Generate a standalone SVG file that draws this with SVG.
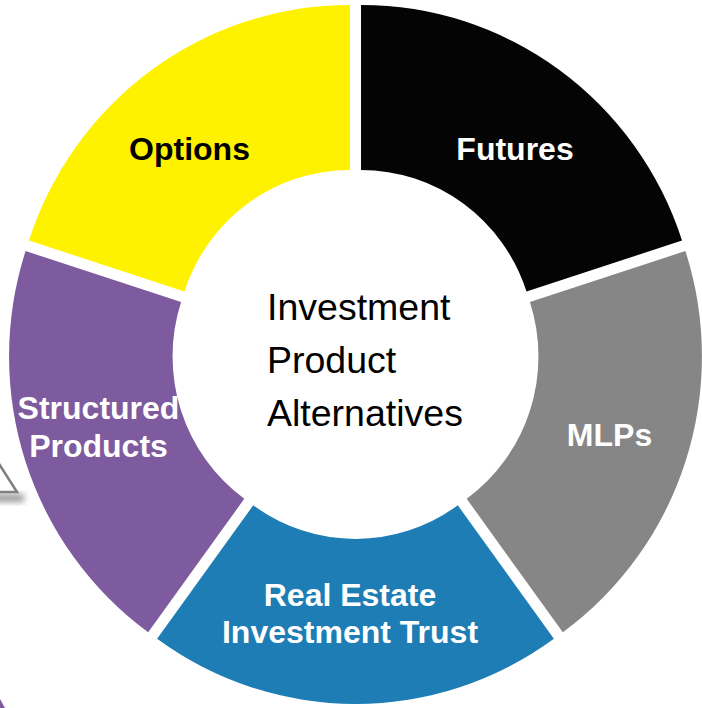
<svg xmlns="http://www.w3.org/2000/svg" width="702" height="708" viewBox="0 0 702 708">
<defs>
<style>
.lbl{font-family:"Liberation Sans",Arial,sans-serif;font-weight:bold;font-size:32px;text-anchor:middle;fill:#ffffff}
.ctr{font-family:"Liberation Sans",Arial,sans-serif;font-size:37.5px;fill:#000000}
</style>
<filter id="blur" x="-50%" y="-50%" width="200%" height="200%"><feGaussianBlur stdDeviation="3"/></filter>
</defs>
<rect width="702" height="708" fill="#ffffff"/>
<g id="artifacts">
<rect x="-10" y="494" width="34" height="8" fill="#9a9a9a" filter="url(#blur)"/>
<polygon points="-6,456 17,492 -6,492" fill="#ffffff" stroke="#7f7f7f" stroke-width="2.5"/>
<polygon points="0,699 5,708 0,708" fill="#7d5b9e"/>
</g>
<g id="futures">
<path d="M 361.03 4.9 A 337.5 341 0 0 1 682.01 240.53 L 526.51 291.51 A 174 176 0 0 0 361.03 169.9 Z" fill="#040404"/>
<text class="lbl" x="515" y="160">Futures</text>
</g>
<g id="mlps">
<path d="M 685.42 251.03 A 337.5 341 0 0 1 562.82 632.27 L 466.72 498.79 A 174 176 0 0 0 529.92 302.01 Z" fill="#868686"/>
<text class="lbl" x="609.5" y="446">MLPs</text>
</g>
<g id="reit">
<path d="M 553.88 638.77 A 337.5 341 0 0 1 157.12 638.77 L 253.22 505.29 A 174 176 0 0 0 457.78 505.29 Z" fill="#1d7db4"/>
<text class="lbl" x="350" y="606">Real Estate</text>
<text class="lbl" x="350" y="643">Investment Trust</text>
</g>
<g id="structured">
<path d="M 148.18 632.27 A 337.5 341 0 0 1 25.58 251.03 L 181.08 302.01 A 174 176 0 0 0 244.28 498.79 Z" fill="#7d5b9e"/>
<text class="lbl" x="98.5" y="419">Structured</text>
<text class="lbl" x="98.5" y="457">Products</text>
</g>
<g id="options">
<path d="M 28.99 240.53 A 337.5 341 0 0 1 349.97 4.9 L 349.97 169.9 A 174 176 0 0 0 184.49 291.51 Z" fill="#fff200"/>
<text class="lbl" x="189.5" y="160" style="fill:#000000">Options</text>
</g>
<g id="center">
<text class="ctr" x="267" y="320">Investment</text>
<text class="ctr" x="267" y="372.5">Product</text>
<text class="ctr" x="267" y="426">Alternatives</text>
</g>
</svg>
